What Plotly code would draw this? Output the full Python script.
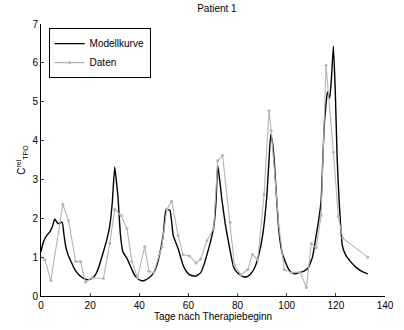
import plotly.graph_objects as go

# Model curve (Modellkurve)
model_days = [0, 0.8, 1.6, 2.6, 3.6, 4.6, 5.6, 7, 8.6, 9.4, 10.2, 11.2, 12.2, 13.2, 14.2, 15.8,
              17.5, 19, 20.8, 22.2, 23.4, 25.4, 26.8, 28, 29, 30, 30.6, 31.3, 32.3, 33.3, 35,
              36.5, 38, 39.3, 40.6, 42, 44, 45.9, 47.3, 48.5, 49.8, 50.9, 52.5, 53.8, 55.8,
              57.8, 59, 60.4, 61.7, 63, 65, 66.4, 67.7, 69, 70.3, 71.2, 71.9, 72.8, 73.7, 75,
              76.3, 78.3, 79.6, 80.9, 82.2, 83.6, 85.2, 86.9, 88.6, 90.2, 91.9, 92.8, 93.5, 94.2,
              94.8, 95.8, 96.8, 98, 99.4, 100.7, 102, 103.5, 105, 107, 108.7, 110.5, 112, 113,
              114, 115.3, 116.6, 117.5, 118.3, 119, 119.8, 120.5, 121.3, 122.6, 124, 125.9,
              128, 130.4, 133]
model_vals = [1.14, 1.35, 1.48, 1.58, 1.65, 1.78, 1.98, 1.86, 1.9, 1.55, 1.23, 1.03, 0.89, 0.75,
              0.64, 0.52, 0.45, 0.42, 0.45, 0.55, 0.72, 1.14, 1.45, 1.81, 2.4, 3.32, 3.0, 2.57,
              1.6, 1.14, 0.97, 0.75, 0.55, 0.45, 0.4, 0.4, 0.47, 0.6, 0.82, 1.14, 1.6, 2.23, 2.2,
              1.56, 1.22, 0.8, 0.65, 0.55, 0.52, 0.51, 0.6, 0.82, 1.1, 1.4, 1.77, 2.4, 3.37, 2.95,
              2.44, 1.85, 1.39, 0.76, 0.62, 0.55, 0.5, 0.49, 0.56, 0.72, 1.05, 1.56, 2.57, 3.5,
              4.16, 3.95, 3.58, 2.6, 1.69, 1.15, 0.89, 0.7, 0.6, 0.57, 0.6, 0.64, 0.72, 1.0,
              1.56, 1.95, 2.45, 4.42, 5.26, 5.09, 5.7, 6.43, 5.2, 3.6, 2.49, 1.31, 1.05, 0.89,
              0.75, 0.64, 0.57]

# Measured data (Daten)
data_days = [0, 1.6, 4, 8.9, 11.2, 14.1, 16.1, 18.1, 20.8, 25.4, 28, 30, 32.6, 35, 37, 39.3,
             42.2, 43.9, 45.9, 49.2, 51.2, 53.2, 55.8, 57.8, 60.4, 63.1, 65, 67.5, 70.3, 71.9,
             73.9, 77, 78.7, 81.3, 84.2, 86, 88.2, 90.8, 92.8, 93.7, 96.8, 99, 102, 105.4, 108,
             110, 112, 114, 116, 119, 121, 122.8, 133]
data_vals = [1.0, 0.93, 0.4, 2.36, 1.94, 0.89, 0.89, 0.36, 0.47, 0.45, 1.36, 2.23, 2.07, 1.73,
             0.89, 0.47, 1.27, 0.64, 0.6, 1.27, 2.23, 2.44, 1.56, 1.06, 1.03, 0.85, 0.95, 1.42,
             1.74, 3.48, 3.62, 1.9, 0.81, 0.55, 0.68, 1.07, 0.93, 2.61, 4.77, 4.25, 1.81, 0.68,
             0.6, 0.62, 0.22, 1.35, 1.24, 2.07, 5.94, 3.7, 2.05, 1.49, 1.0]

x_ticks = [0, 20, 40, 60, 80, 100, 120, 140]
y_ticks = [0, 1, 2, 3, 4, 5, 6, 7]

fig = go.Figure()
fig.add_trace(go.Scatter(x=model_days, y=model_vals, mode="lines", name="Modellkurve",
                         line=dict(color="black", width=1.4, shape="spline", smoothing=0.4)))
fig.add_trace(go.Scatter(x=data_days, y=data_vals, mode="lines+markers", name="Daten",
                         line=dict(color="#b4b4b4", width=1.1),
                         marker=dict(color="#b4b4b4", size=3)))

fam = "Liberation Sans, Arial, sans-serif"
fig.update_layout(
    width=404, height=330,
    margin=dict(l=41, r=10, t=24, b=28),
    paper_bgcolor="white", plot_bgcolor="white",
    font=dict(family=fam, size=10, color="black"),
    title=dict(text="Patient 1", x=0.537, xanchor="center", y=0.975, yanchor="middle",
               font=dict(family=fam, size=10)),
    showlegend=True,
    legend=dict(x=0.022, y=0.985, xanchor="left", yanchor="top", bgcolor="white",
                bordercolor="black", borderwidth=1, font=dict(size=10),
                tracegroupgap=0, itemwidth=30),
)
fig.update_xaxes(range=[0, 140], tickvals=x_ticks, ticks="inside", ticklen=3,
                 showline=True, linecolor="black", linewidth=1, showgrid=False,
                 zeroline=False, tickfont=dict(size=10),
                 title=dict(text="Tage nach Therapiebeginn", standoff=2, font=dict(size=10)))
fig.update_yaxes(range=[0, 7], tickvals=y_ticks, ticks="inside", ticklen=3,
                 showline=True, linecolor="black", linewidth=1, showgrid=False,
                 zeroline=False, tickfont=dict(size=10),
                 title=dict(text="C<sup>rel</sup><sub>TPO</sub>", standoff=4, font=dict(size=10)))

fig.write_html("out.html")
